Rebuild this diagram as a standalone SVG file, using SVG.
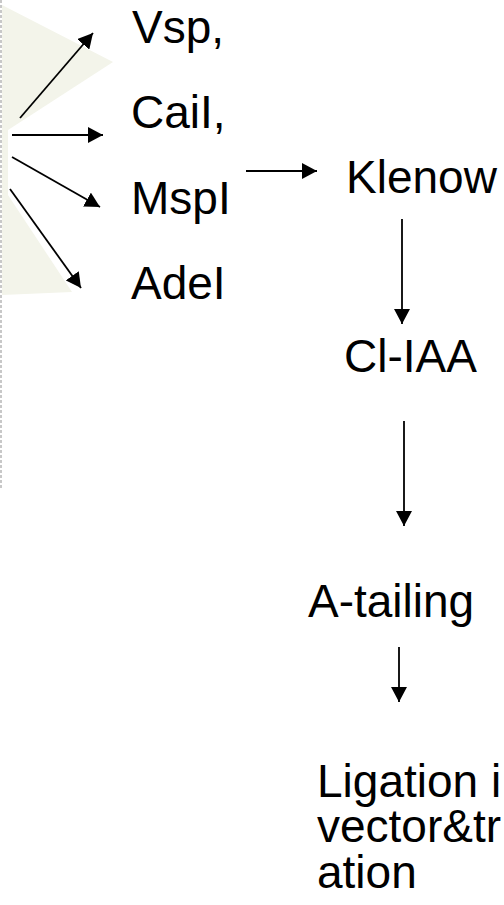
<svg xmlns="http://www.w3.org/2000/svg" width="504" height="905" viewBox="0 0 504 905">
<style>
.t{font-family:"Liberation Sans",Arial,sans-serif;font-size:46px;fill:#000}
.c{stroke:#000;stroke-width:1.8;fill:none}
</style>
<defs>
<marker id="ah" markerUnits="userSpaceOnUse" markerWidth="16" markerHeight="16" refX="15" refY="8" orient="auto" viewBox="0 0 16 16">
<path d="M0,0 L15,8 L0,16 z" fill="#000"/>
</marker>
</defs>
<rect width="504" height="905" fill="#fff"/>
<g id="background">
<polygon points="2,5 113,62 8,130 8,195 72,292 2,295" fill="#f3f4ea"/>
<line x1="1" y1="0" x2="1" y2="490" stroke="#c8c8c8" stroke-width="2" stroke-dasharray="3,2"/>
</g>
<g id="connectors">
<line class="c" x1="20" y1="118" x2="93" y2="33" marker-end="url(#ah)"/>
<line class="c" x1="12" y1="135" x2="103" y2="135" marker-end="url(#ah)"/>
<line class="c" x1="12" y1="157" x2="100" y2="207" marker-end="url(#ah)"/>
<line class="c" x1="10" y1="189" x2="81" y2="288" marker-end="url(#ah)"/>
<line class="c" x1="246" y1="171" x2="317" y2="171" marker-end="url(#ah)"/>
<line class="c" x1="402" y1="219" x2="402" y2="324" marker-end="url(#ah)"/>
<line class="c" x1="404" y1="421" x2="404" y2="526" marker-end="url(#ah)"/>
<line class="c" x1="399" y1="647" x2="399" y2="702" marker-end="url(#ah)"/>
</g>
<g id="vsp"><text class="t" x="132" y="43">Vsp,</text></g>
<g id="cail"><text class="t" x="131" y="128">CaiI,</text></g>
<g id="mspi"><text class="t" x="131" y="214">MspI</text></g>
<g id="adei"><text class="t" x="131" y="299">AdeI</text></g>
<g id="klenow"><text class="t" x="346" y="193">Klenow</text></g>
<g id="cliaa"><text class="t" x="344" y="372">Cl-IAA</text></g>
<g id="atailing"><text class="t" x="308" y="617">A-tailing</text></g>
<g id="ligation"><text class="t" x="317" y="797">Ligation i</text><text class="t" x="317" y="842">vector&amp;tr</text><text class="t" x="317" y="888">ation</text></g>
</svg>
